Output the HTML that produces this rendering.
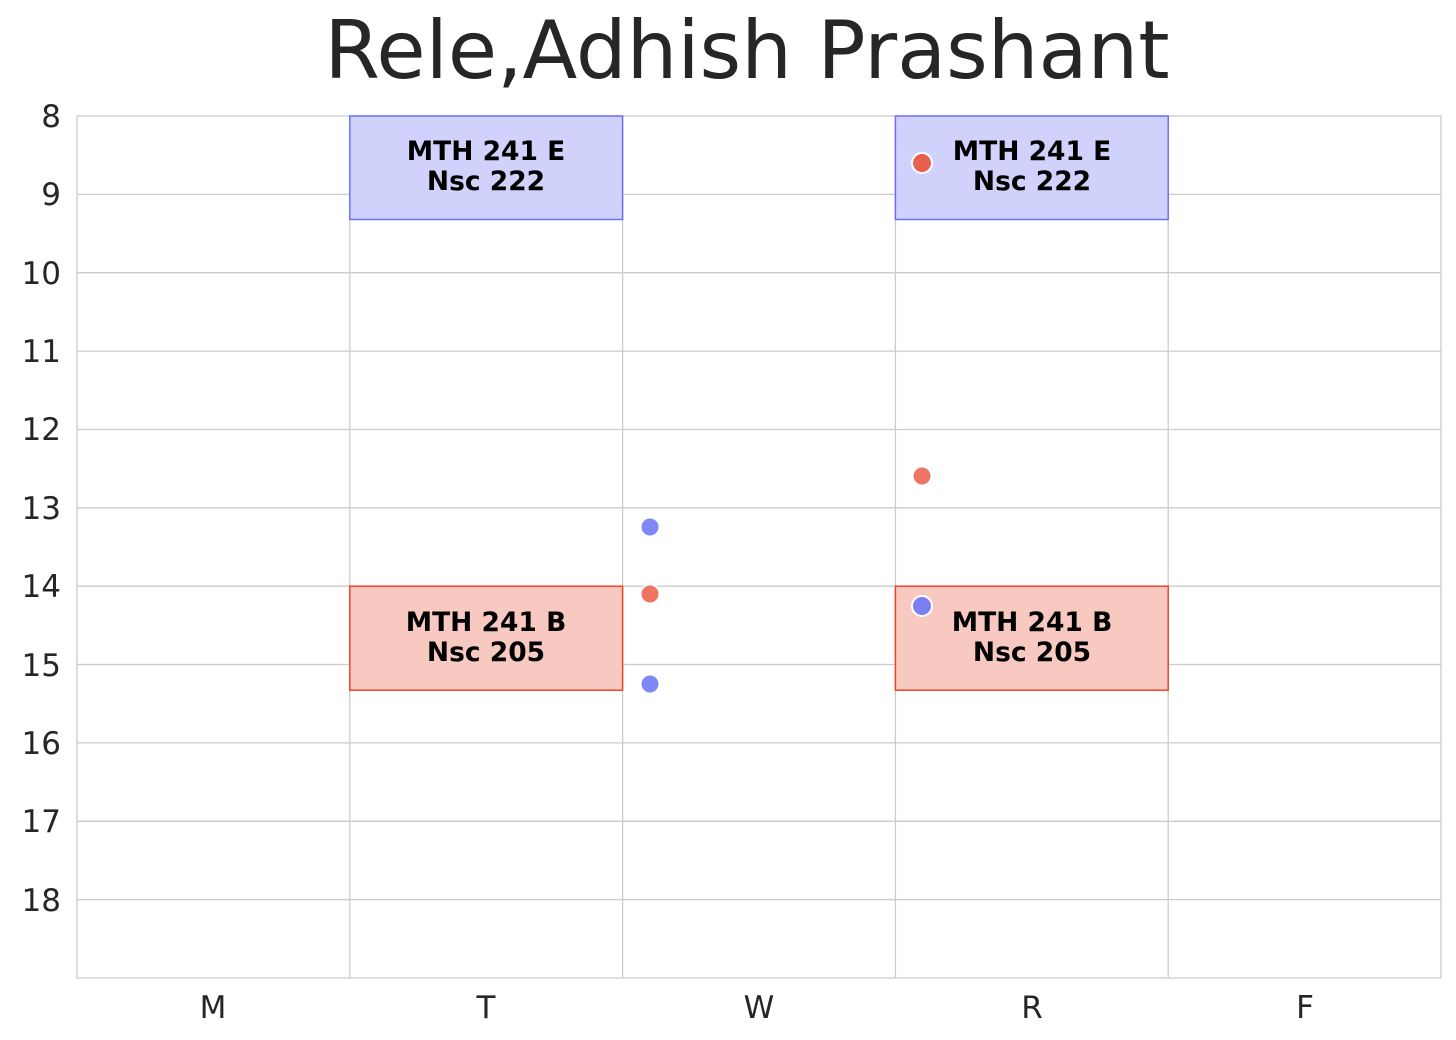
<!DOCTYPE html>
<html><head><meta charset="utf-8"><style>body{margin:0;background:#fff}svg{display:block}</style></head>
<body>
<svg width="1456" height="1040" viewBox="0 0 1456 1040" xmlns="http://www.w3.org/2000/svg" font-family="DejaVu Sans, Liberation Sans, sans-serif">
<rect width="1456" height="1040" fill="#fff"/>
<text x="747" y="78" font-size="80" fill="#262626" text-anchor="middle">Rele,Adhish Prashant</text>
<g stroke="#cccccc" stroke-width="1.3">
<line x1="77" x2="1441" y1="194.4" y2="194.4"/>
<line x1="77" x2="1441" y1="272.7" y2="272.7"/>
<line x1="77" x2="1441" y1="351.1" y2="351.1"/>
<line x1="77" x2="1441" y1="429.5" y2="429.5"/>
<line x1="77" x2="1441" y1="507.8" y2="507.8"/>
<line x1="77" x2="1441" y1="586.2" y2="586.2"/>
<line x1="77" x2="1441" y1="664.5" y2="664.5"/>
<line x1="77" x2="1441" y1="742.9" y2="742.9"/>
<line x1="77" x2="1441" y1="821.3" y2="821.3"/>
<line x1="77" x2="1441" y1="899.6" y2="899.6"/>
<line x1="349.8" x2="349.8" y1="116" y2="978"/>
<line x1="622.6" x2="622.6" y1="116" y2="978"/>
<line x1="895.4" x2="895.4" y1="116" y2="978"/>
<line x1="1168.2" x2="1168.2" y1="116" y2="978"/>
<rect x="77" y="116" width="1364" height="862" fill="none"/>
</g>
<g stroke-width="1.5">
<rect x="349.8" y="116" width="272.8" height="103.5" fill="#d0d2fc" stroke="#6b70fa"/>
<rect x="895.4" y="116" width="272.8" height="103.5" fill="#d0d2fc" stroke="#6b70fa"/>
<rect x="349.8" y="586.2" width="272.8" height="104" fill="#f8c9c1" stroke="#f0442a"/>
<rect x="895.4" y="586.2" width="272.8" height="104" fill="#f8c9c1" stroke="#f0442a"/>
</g>
<g font-size="26.5" font-weight="bold" fill="#000" text-anchor="middle">
<text x="486" y="160">MTH 241 E</text><text x="486" y="190">Nsc 222</text>
<text x="1032" y="160">MTH 241 E</text><text x="1032" y="190">Nsc 222</text>
<text x="486" y="631">MTH 241 B</text><text x="486" y="661">Nsc 205</text>
<text x="1032" y="631">MTH 241 B</text><text x="1032" y="661">Nsc 205</text>
</g>
<g stroke="#fff" stroke-width="2">
<circle cx="922" cy="163" r="10" fill="#e8604e"/>
<circle cx="922" cy="476" r="9.5" fill="#f07462"/>
<circle cx="922" cy="606" r="10" fill="#7a80f2"/>
<circle cx="650" cy="527" r="9.5" fill="#8088f8"/>
<circle cx="650" cy="594" r="9.5" fill="#f07462"/>
<circle cx="650" cy="684" r="9.5" fill="#8088f8"/>
</g>
<g font-size="31" fill="#262626" text-anchor="end">
<text x="61" y="127">8</text><text x="61" y="205">9</text><text x="61" y="284">10</text>
<text x="61" y="362">11</text><text x="61" y="440">12</text><text x="61" y="519">13</text>
<text x="61" y="597">14</text><text x="61" y="676">15</text><text x="61" y="754">16</text>
<text x="61" y="832">17</text><text x="61" y="911">18</text>
</g>
<g font-size="31" fill="#262626" text-anchor="middle">
<text x="213" y="1018">M</text><text x="486" y="1018">T</text><text x="759" y="1018">W</text>
<text x="1032" y="1018">R</text><text x="1305" y="1018">F</text>
</g>
</svg>
</body></html>
